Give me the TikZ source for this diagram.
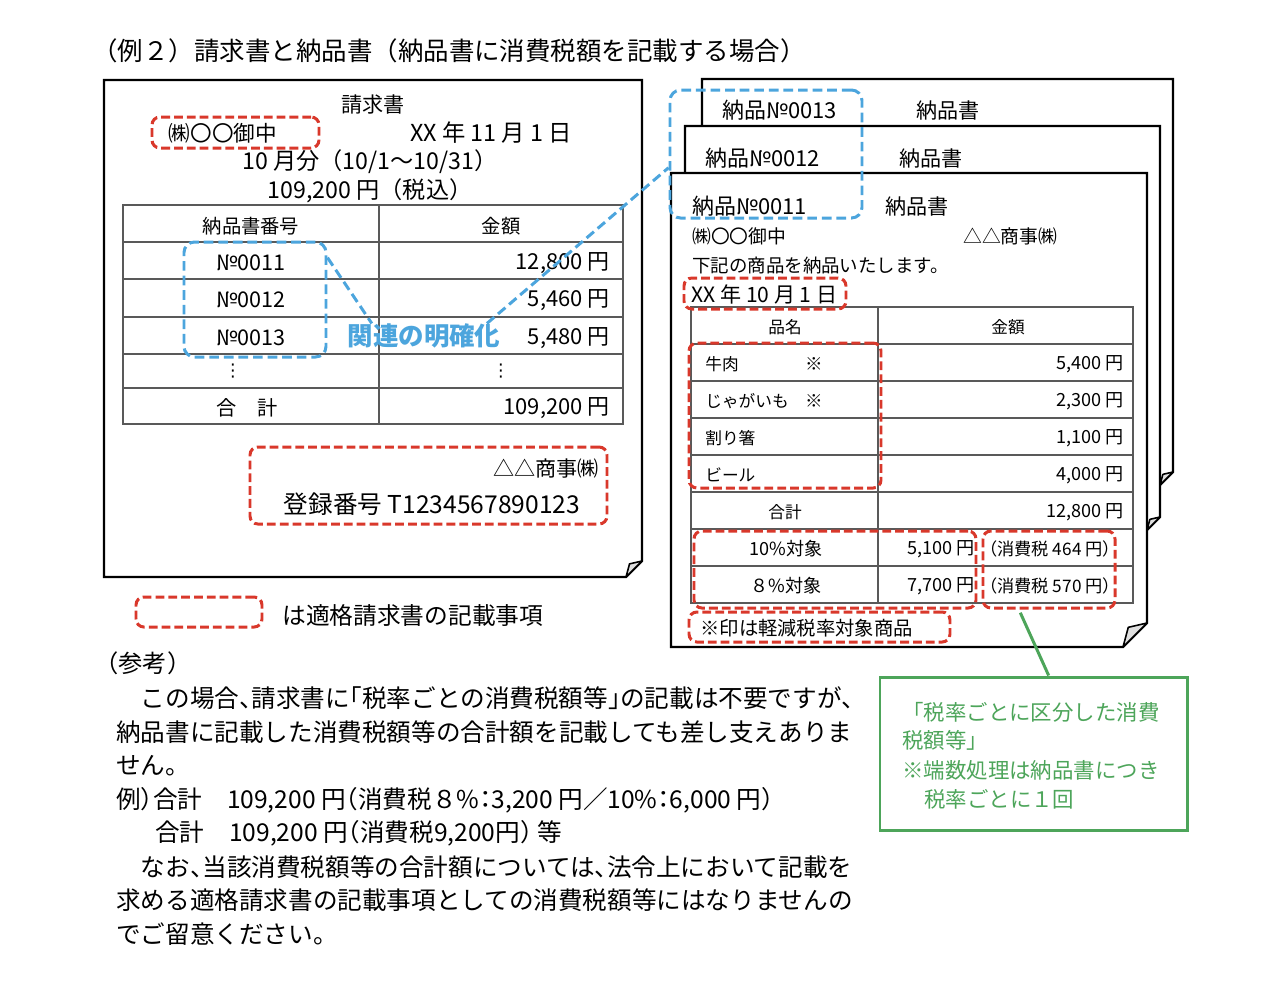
\documentclass[tikz,border=0pt]{standalone}
\usepackage{fontspec}
\setmainfont{Noto Sans CJK JP}
\newfontfamily\haltfont[RawFeature=+halt]{Noto Sans CJK JP}
\newfontfamily\symfont{DejaVu Sans}
\usetikzlibrary{calc,fit}
\definecolor{reqred}{HTML}{D9382B}
\definecolor{linkblue}{HTML}{4CA5DD}
\definecolor{notegreen}{HTML}{4DA55A}
\newcommand{\fsz}[1]{\fontsize{#1pt}{#1pt}\selectfont}
% sheet of paper with a folded corner
\newcommand{\papersheet}[5]{%
  \draw[sheet] (#1,#2) -- (#3,#2) -- (#3,#4-#5) -- (#3-#5,#4) -- (#1,#4) -- cycle;
  \draw[curl] (#3,#4-#5) -- (#3-#5,#4) -- (#3-0.78*#5,#4-0.82*#5) -- cycle;}
\tikzset{
  sheet/.style={draw=black, line width=1.2pt, fill=white, line join=miter},
  curl/.style={draw=black, line width=0.9pt, fill=black!12, line join=round},
  tabline/.style={draw=black!65, line width=0.6pt},
  txt/.style={inner sep=0pt},
  body/.style={inner sep=0pt, anchor=west, font=\haltfont\fsz{14}},
  reqbox/.style={draw=reqred, line width=1.7pt, dash pattern=on 5pt off 2.3pt,
    rounded corners=4.5pt, inner sep=0pt},
  linkbox/.style={draw=linkblue, line width=1.7pt, dash pattern=on 5.5pt off 2.8pt,
    rounded corners=6pt, inner sep=0pt},
  link/.style={draw=linkblue, line width=1.7pt, dash pattern=on 5.5pt off 2.8pt},
  greenbox/.style={draw=notegreen, line width=1.7pt, inner sep=0pt},
  greenline/.style={draw=notegreen, line width=1.7pt},
}
\begin{document}
\begin{tikzpicture}[x=0.02cm, y=-0.02cm]
\useasboundingbox[fill=white] (0,0) rectangle (1276,1002);

\node[txt, anchor=west, font=\fsz{14.5}] (ttl) at (92,51)
  {（例２）請求書と納品書（納品書に消費税額を記載する場合）};

% invoice
\papersheet{104}{80}{642}{577}{16}
\node[txt, font=\fsz{12}] (invhd) at (373,104) {請求書};
\node[txt, font=\fsz{12.3}] (invcust) at (223,133) {㈱〇〇御中};
\node[txt, font=\fsz{13.3}] (invdate) at (491,133) {XX 年 11 月 1 日};
\node[txt, font=\fsz{13.2}] (invterm) at (370,162) {10 月分（10/1～10/31）};
\node[txt, font=\fsz{13.2}] (invsum) at (370,191) {109,200 円（税込）};

\draw[tabline] (123,205) rectangle (623,424);
\foreach \y in {242,279,317,354,388}
  \draw[tabline] (123,\y) -- (623,\y);
\draw[tabline] (379,205) -- (379,424);
\node[txt, font=\fsz{11}] (invcolno) at (251,226) {納品書番号};
\node[txt, font=\fsz{11}] (invcolamt) at (501,226) {金額};
\foreach \n/\amt/\y [count=\i] in {0011/{12,800 円}/263, 0012/{5,460 円}/300, 0013/{5,480 円}/338} {
  \node[txt, font=\fsz{12.3}] (invno\i) at (251,\y) {№\n};
  \node[txt, anchor=east, font=\fsz{12.5}] (invamt\i) at (610,\y) {\amt};
}
\node[txt, font=\symfont\fsz{10}] (invdots1) at (233,371) {⋮};
\node[txt, font=\symfont\fsz{10}] (invdots2) at (501,371) {⋮};
\node[txt, font=\fsz{11.5}] (invtotl) at (247,408) {合　計};
\node[txt, anchor=east, font=\fsz{12.5}] (invtotal) at (610,408) {109,200 円};
\node[txt, anchor=east, font=\fsz{12}] (invsell) at (599,469) {△△商事㈱};
\node[txt, font=\fsz{14}] (invreg) at (432,504) {登録番号 T1234567890123};

% legend
\node[reqbox, fit={(136,597) (262,627)}] (legbox) {};
\node[txt, anchor=west, font=\fsz{13.5}] (legtxt) at (282,615) {は適格請求書の記載事項};

% delivery notes
\papersheet{702}{79}{1173}{485}{13}
\node[txt, anchor=west, font=\fsz{12.5}] (dn3no) at (722,110) {納品№0013};
\node[txt, anchor=west, font=\fsz{12}] (dn3ttl) at (916,110) {納品書};
\papersheet{685}{126}{1160}{530}{13}
\node[txt, anchor=west, font=\fsz{12.5}] (dn2no) at (705,158) {納品№0012};
\node[txt, anchor=west, font=\fsz{12}] (dn2ttl) at (899,158) {納品書};
\papersheet{671}{173}{1147}{647}{24}
\node[txt, anchor=west, font=\fsz{12.5}] (dn1no) at (692,206) {納品№0011};
\node[txt, anchor=west, font=\fsz{12}] (dn1ttl) at (885,206) {納品書};
\node[txt, anchor=west, font=\fsz{10.7}] (dncust) at (692,236) {㈱〇〇御中};
\node[txt, anchor=west, font=\fsz{10.7}] (dnsell) at (963,236) {△△商事㈱};
\node[txt, anchor=west, font=\fsz{10.5}] (dnmsg) at (692,265) {下記の商品を納品いたします。};
\node[txt, anchor=west, font=\fsz{12}] (dndate) at (691,294) {XX 年 10 月 1 日};

\draw[tabline] (691,307) rectangle (1133,603);
\foreach \y in {344,381,418,455,492,529,566}
  \draw[tabline] (691,\y) -- (1133,\y);
\draw[tabline] (878,307) -- (878,603);
\node[txt, font=\fsz{9.5}] (dncolname) at (785,327) {品名};
\node[txt, font=\fsz{9.5}] (dncolamt) at (1008,327) {金額};
\foreach \name/\amt/\y [count=\i] in {牛肉/{5,400 円}/364, じゃがいも/{2,300 円}/401, 割り箸/{1,100 円}/438, ビール/{4,000 円}/475} {
  \node[txt, anchor=west, font=\fsz{9.5}] (dnitem\i) at (705,\y) {\name};
  \node[txt, anchor=east, font=\fsz{10.3}] (dnamt\i) at (1124,\y) {\amt};
}
\node[txt, font=\fsz{10}] (dnmark1) at (814,364) {※};
\node[txt, font=\fsz{10}] (dnmark2) at (814,401) {※};
\node[txt, font=\fsz{9.5}] (dntotl) at (785,512) {合計};
\node[txt, anchor=east, font=\fsz{10.3}] (dntotal) at (1124,512) {12,800 円};
\node[txt, font=\fsz{10.3}] (dnrate10) at (786,549) {10\%対象};
\node[txt, anchor=east, font=\fsz{10.3}] (dnsum10) at (975,549) {5,100 円};
\node[txt, font=\haltfont\fsz{9.8}] (dntax10) at (1050,549) {（消費税 464 円）};
\node[txt, font=\fsz{10.3}] (dnrate8) at (786,586) {８\%対象};
\node[txt, anchor=east, font=\fsz{10.3}] (dnsum8) at (975,586) {7,700 円};
\node[txt, font=\haltfont\fsz{9.8}] (dntax8) at (1050,586) {（消費税 570 円）};
\node[txt, anchor=west, font=\fsz{11}] (dnnote) at (700,628) {※印は軽減税率対象商品};

% required items
\node[reqbox, fit={(152,117) (319,148)}] (custbox) {};
\node[reqbox, fit={(250,447) (607,524)}] (sellerbox) {};
\node[reqbox, fit={(684,278) (846,309)}] (datebox) {};
\node[reqbox, fit={(689,343) (881,488)}] (itembox) {};
\node[reqbox, fit={(694,531) (976,608)}] (ratebox) {};
\node[reqbox, fit={(983,531) (1115,608)}] (taxbox) {};
\node[reqbox, fit={(689,612) (950,642)}] (markbox) {};

% link between invoice and delivery notes
\node[linkbox, fit={(184,242) (326,357)}] (lbox) {};
\node[linkbox, fit={(670,90) (862,218)}] (rbox) {};
\node[txt, font=\bfseries\fsz{14.5}, text=linkblue] (rel) at (424,336) {関連の明確化};
\draw[link] (lbox.30) -- ($(rel.north west)!0.16!(rel.north east)$);
\draw[link] ($(rel.north west)!0.91!(rel.north east)$) -- (rbox.188);

% note on tax amounts
\node[greenbox, fit={(880,677) (1187,830)}] (gbox) {};
\draw[greenline, shorten <=2pt] (taxbox.233) -- (gbox.79);
\foreach \t/\x/\y [count=\i] in {「税率ごとに区分した消費/902/712, 税額等」/902/740, ※端数処理は納品書につき/902/770, 税率ごとに１回/924/799}
  \node[txt, anchor=west, font=\fsz{12.2}, text=notegreen] (gtxt\i) at (\x,\y) {\t};

% reference text
\node[txt, anchor=west, font=\fsz{13.8}] (ref) at (94,663) {（参考）};
\foreach \t/\x/\y [count=\i] in {
  {　この場合、請求書に「税率ごとの消費税額等」の記載は不要ですが、}/116/698,
  {納品書に記載した消費税額等の合計額を記載しても差し支えありま}/116/732,
  {せん。}/116/766,
  {例）合計　109,200 円（消費税８\%：3,200 円／10\%：6,000 円）}/116/800,
  {合計　109,200 円（消費税9,200円） 等}/155/833,
  {　なお、当該消費税額等の合計額については、法令上において記載を}/116/867,
  {求める適格請求書の記載事項としての消費税額等にはなりませんの}/116/900,
  {でご留意ください。}/116/934}
  \node[body] (ref\i) at (\x,\y) {\t};
\end{tikzpicture}
\end{document}
